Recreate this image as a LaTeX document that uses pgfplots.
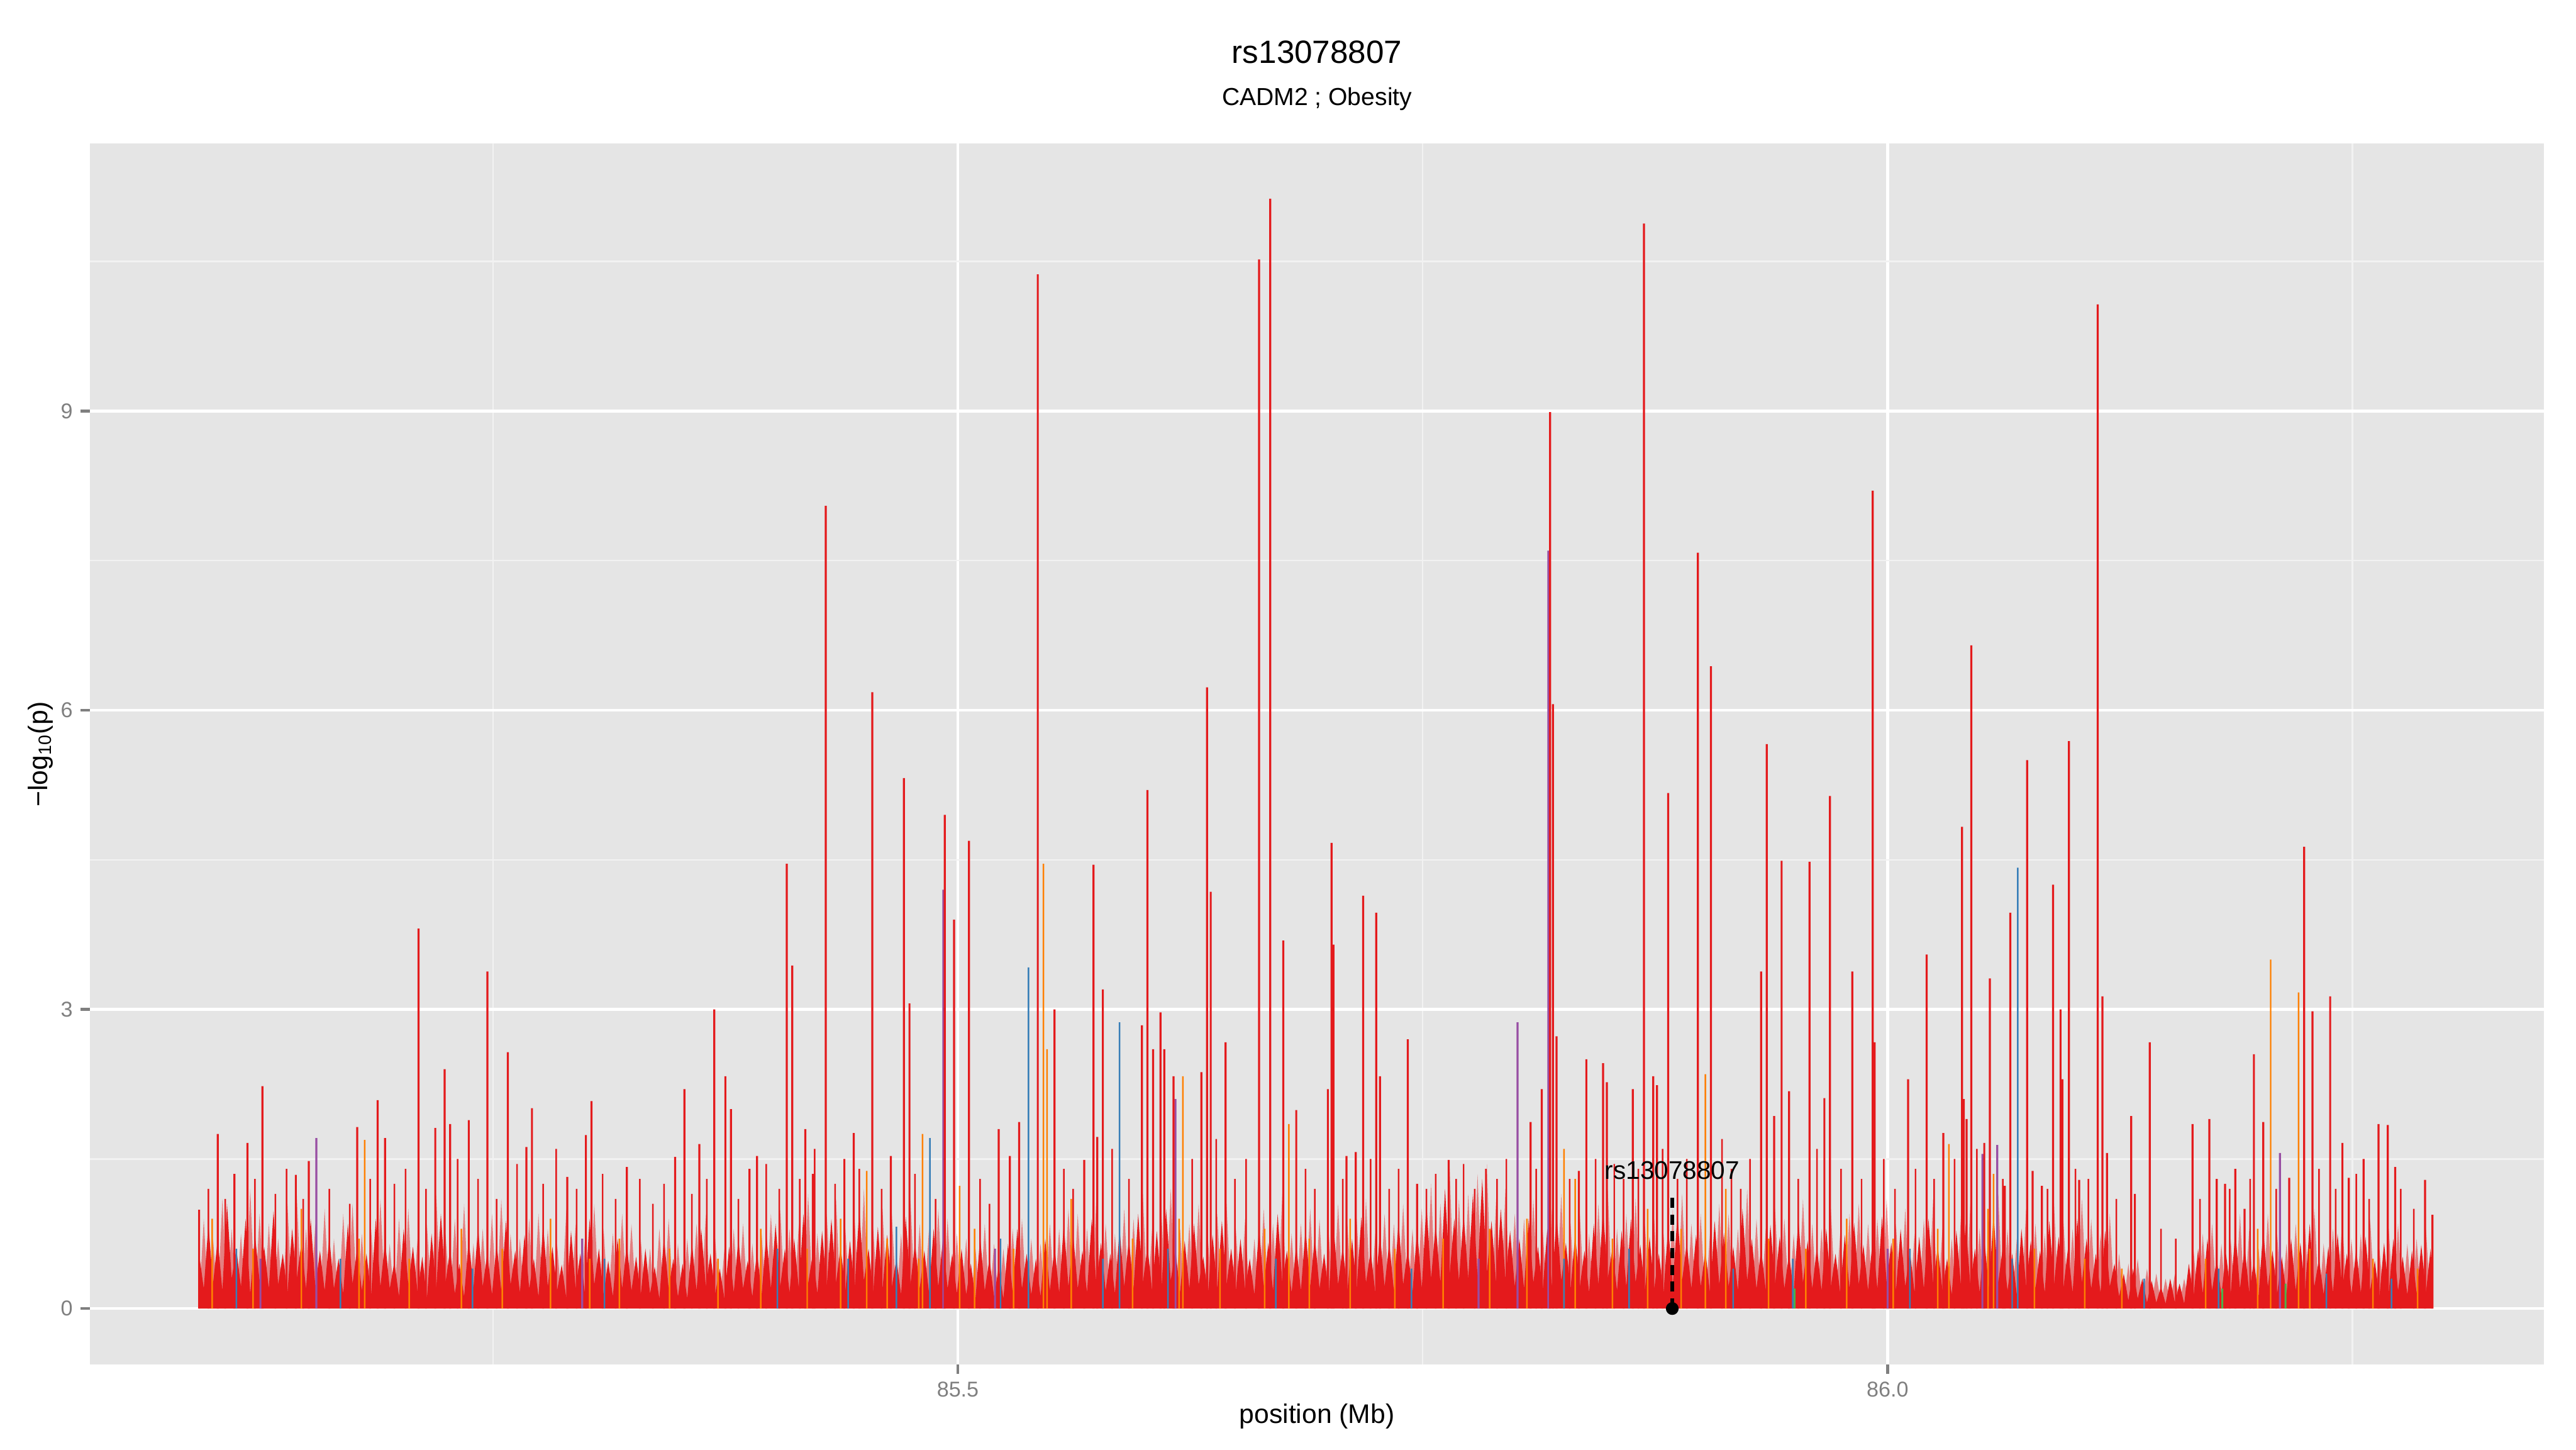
\documentclass[border=0pt]{standalone}
\usepackage{fontspec}
\setmainfont{Liberation Sans}
\usepackage{pgfplots}
\pgfplotsset{compat=1.18}
\definecolor{sred}{HTML}{E41A1C}
\definecolor{sblue}{HTML}{377EB8}
\definecolor{sgreen}{HTML}{4DAF4A}
\definecolor{spurple}{HTML}{984EA3}
\definecolor{sorange}{HTML}{FF7F00}
\definecolor{panelbg}{HTML}{E5E5E5}
\definecolor{minorgrid}{HTML}{F2F2F2}
\definecolor{tickgray}{HTML}{7F7F7F}
\pgfplotsset{spike/.style={ybar, bar shift=0pt, bar width=#1, draw=none}}
\begin{document}
\begin{tikzpicture}
\path[use as bounding box] (-40.32pt,-38pt) rectangle (1111.68pt,610.05pt);
\begin{axis}[
  at={(0pt,0pt)}, anchor=south west,
  scale only axis, width=1097.3pt, height=545.8pt,
  xmin=85.0334, xmax=86.3529, ymin=-0.561, ymax=11.681,
  axis background/.style={fill=panelbg},
  axis line style={draw=none},
  xtick={85.5,86.0}, xticklabels={85.5,86.0},
  minor xtick={85.25,85.75,86.25},
  ytick={0,3,6,9}, minor ytick={1.5,4.5,7.5,10.5},
  grid=both,
  major grid style={white, line width=1.3pt},
  minor grid style={minorgrid, line width=0.65pt},
  tick align=outside, tick pos=left,
  major tick length=4.25pt, minor tick length=0pt,
  tick style={tickgray, line width=1.2pt},
  ticklabel style={font=\fontsize{9.6}{11}\selectfont, text=tickgray},
  /pgf/number format/assume math mode=true,
]
% translucent upper layer of the dense background
\addplot[fill=sred, fill opacity=0.5, draw=none] coordinates {
(85.0918,0)
(85.0920,.05)(85.0945,.9)(85.0970,.05)(85.0995,.7)
(85.1020,.05)(85.1045,1.1)(85.1070,.05)(85.1095,.8)
(85.1120,.05)(85.1145,.75)(85.1170,.05)(85.1195,1.2)
(85.1220,.05)(85.1245,.95)(85.1270,.05)(85.1295,.85)
(85.1320,.05)(85.1345,.7)(85.1370,.05)(85.1395,1.05)
(85.1420,.05)(85.1445,1.15)(85.1470,.05)(85.1495,.8)
(85.1520,.05)(85.1545,.85)(85.1570,.05)(85.1595,1.0)
(85.1620,.05)(85.1645,.7)(85.1670,.05)(85.1695,.95)
(85.1720,.05)(85.1745,1.05)(85.1770,.05)(85.1795,.75)
(85.1820,.05)(85.1845,.8)(85.1870,.05)(85.1895,1.1)
(85.1920,.05)(85.1945,.65)(85.1970,.05)(85.1995,.9)
(85.2020,.05)(85.2045,1.0)(85.2070,.05)(85.2095,.7)
(85.2120,.05)(85.2145,.85)(85.2170,.05)(85.2195,1.15)
(85.2220,.05)(85.2245,.75)(85.2270,.05)(85.2295,.9)
(85.2320,.05)(85.2345,1.05)(85.2370,.05)(85.2395,.65)
(85.2420,.05)(85.2445,.8)(85.2470,.05)(85.2495,.95)
(85.2520,.05)(85.2545,1.1)(85.2570,.05)(85.2595,.75)
(85.2620,.05)(85.2645,.7)(85.2670,.05)(85.2695,.9)
(85.2720,.05)(85.2745,.95)(85.2770,.05)(85.2795,.8)
(85.2820,.05)(85.2845,.65)(85.2870,.05)(85.2895,1.0)
(85.2920,.05)(85.2945,.85)(85.2970,.05)(85.2995,.7)
(85.3020,.05)(85.3045,1.05)(85.3070,.05)(85.3095,.8)
(85.3120,.05)(85.3145,.75)(85.3170,.05)(85.3195,.95)
(85.3220,.05)(85.3245,.85)(85.3270,.05)(85.3295,.7)
(85.3320,.05)(85.3345,.6)(85.3370,.05)(85.3395,.8)
(85.3420,.05)(85.3445,.9)(85.3470,.05)(85.3495,.65)
(85.3520,.05)(85.3545,.7)(85.3570,.05)(85.3595,.85)
(85.3620,.05)(85.3645,.95)(85.3670,.05)(85.3695,.7)
(85.3720,.05)(85.3745,.6)(85.3770,.05)(85.3795,.8)
(85.3820,.05)(85.3845,.85)(85.3870,.05)(85.3895,.65)
(85.3920,.05)(85.3945,.75)(85.3970,.05)(85.3995,.95)
(85.4020,.05)(85.4045,1.0)(85.4070,.05)(85.4095,.8)
(85.4120,.05)(85.4145,.85)(85.4170,.05)(85.4195,1.15)
(85.4220,.05)(85.4245,.75)(85.4270,.05)(85.4295,.95)
(85.4320,.05)(85.4345,1.1)(85.4370,.05)(85.4395,.8)
(85.4420,.05)(85.4445,.9)(85.4470,.05)(85.4495,1.2)
(85.4520,.05)(85.4545,.8)(85.4570,.05)(85.4595,1.0)
(85.4620,.05)(85.4645,.95)(85.4670,.05)(85.4695,.75)
(85.4720,.05)(85.4745,1.1)(85.4770,.05)(85.4795,.85)
(85.4820,.05)(85.4845,.8)(85.4870,.05)(85.4895,1.0)
(85.4920,.05)(85.4945,.9)(85.4970,.05)(85.4995,.75)
(85.5020,.05)(85.5045,.7)(85.5070,.05)(85.5095,.6)
(85.5120,.05)(85.5145,.85)(85.5170,.05)(85.5195,.65)
(85.5220,.05)(85.5245,.6)(85.5270,.05)(85.5295,.8)
(85.5320,.05)(85.5345,.9)(85.5370,.05)(85.5395,.7)
(85.5420,.05)(85.5445,.65)(85.5470,.05)(85.5495,.85)
(85.5520,.05)(85.5545,.8)(85.5570,.05)(85.5595,1.0)
(85.5620,.05)(85.5645,.95)(85.5670,.05)(85.5695,.8)
(85.5720,.05)(85.5745,1.1)(85.5770,.05)(85.5795,.85)
(85.5820,.05)(85.5845,.75)(85.5870,.05)(85.5895,1.0)
(85.5920,.05)(85.5945,.9)(85.5970,.05)(85.5995,1.15)
(85.6020,.05)(85.6045,.8)(85.6070,.05)(85.6095,.95)
(85.6120,.05)(85.6145,1.2)(85.6170,.05)(85.6195,.8)
(85.6220,.05)(85.6245,.85)(85.6270,.05)(85.6295,1.05)
(85.6320,.05)(85.6345,.7)(85.6370,.05)(85.6395,.95)
(85.6420,.05)(85.6445,1.05)(85.6470,.05)(85.6495,.8)
(85.6520,.05)(85.6545,.9)(85.6570,.05)(85.6595,.7)
(85.6620,.05)(85.6645,1.0)(85.6670,.05)(85.6695,.85)
(85.6720,.05)(85.6745,1.15)(85.6770,.05)(85.6795,.75)
(85.6820,.05)(85.6845,.85)(85.6870,.05)(85.6895,1.0)
(85.6920,.05)(85.6945,.9)(85.6970,.05)(85.6995,.75)
(85.7020,.05)(85.7045,1.05)(85.7070,.05)(85.7095,.85)
(85.7120,.05)(85.7145,.9)(85.7170,.05)(85.7195,1.1)
(85.7220,.05)(85.7245,.75)(85.7270,.05)(85.7295,.95)
(85.7320,.05)(85.7345,.85)(85.7370,.05)(85.7395,1.05)
(85.7420,.05)(85.7445,.8)(85.7470,.05)(85.7495,1.0)
(85.7520,.05)(85.7545,1.25)(85.7570,.05)(85.7595,1.05)
(85.7620,.05)(85.7645,1.4)(85.7670,.05)(85.7695,1.1)
(85.7720,.05)(85.7745,1.15)(85.7770,.05)(85.7795,1.35)
(85.7820,.05)(85.7845,1.45)(85.7870,.05)(85.7895,1.1)
(85.7920,.05)(85.7945,1.2)(85.7970,.05)(85.7995,.95)
(85.8020,.05)(85.8045,.9)(85.8070,.05)(85.8095,1.1)
(85.8120,.05)(85.8145,.8)(85.8170,.05)(85.8195,1.0)
(85.8220,.05)(85.8245,1.15)(85.8270,.05)(85.8295,.85)
(85.8320,.05)(85.8345,.95)(85.8370,.05)(85.8395,.75)
(85.8420,.05)(85.8445,1.05)(85.8470,.05)(85.8495,1.2)
(85.8520,.05)(85.8545,.8)(85.8570,.05)(85.8595,.95)
(85.8620,.05)(85.8645,1.1)(85.8670,.05)(85.8695,.85)
(85.8720,.05)(85.8745,.9)(85.8770,.05)(85.8795,.75)
(85.8820,.05)(85.8845,1.0)(85.8870,.05)(85.8895,1.15)
(85.8920,.05)(85.8945,.85)(85.8970,.05)(85.8995,.95)
(85.9020,.05)(85.9045,.75)(85.9070,.05)(85.9095,1.05)
(85.9120,.05)(85.9145,.95)(85.9170,.05)(85.9195,.8)
(85.9220,.05)(85.9245,1.2)(85.9270,.05)(85.9295,.9)
(85.9320,.05)(85.9345,.8)(85.9370,.05)(85.9395,1.0)
(85.9420,.05)(85.9445,.9)(85.9470,.05)(85.9495,.75)
(85.9520,.05)(85.9545,1.1)(85.9570,.05)(85.9595,.85)
(85.9620,.05)(85.9645,.8)(85.9670,.05)(85.9695,1.0)
(85.9720,.05)(85.9745,.75)(85.9770,.05)(85.9795,.95)
(85.9820,.05)(85.9845,1.05)(85.9870,.05)(85.9895,.85)
(85.9920,.05)(85.9945,.9)(85.9970,.05)(85.9995,1.1)
(86.0020,.05)(86.0045,.85)(86.0070,.05)(86.0095,1.0)
(86.0120,.05)(86.0145,.75)(86.0170,.05)(86.0195,.9)
(86.0220,.05)(86.0245,1.1)(86.0270,.05)(86.0295,.8)
(86.0320,.05)(86.0345,.7)(86.0370,.05)(86.0395,.95)
(86.0420,.05)(86.0445,1.05)(86.0470,.05)(86.0495,.8)
(86.0520,.05)(86.0545,.9)(86.0570,.05)(86.0595,1.15)
(86.0620,.05)(86.0645,.8)(86.0670,.05)(86.0695,.7)
(86.0720,.05)(86.0745,1.0)(86.0770,.05)(86.0795,.85)
(86.0820,.05)(86.0845,.75)(86.0870,.05)(86.0895,1.05)
(86.0920,.05)(86.0945,.9)(86.0970,.05)(86.0995,.8)
(86.1020,.05)(86.1045,1.1)(86.1070,.05)(86.1095,.9)
(86.1120,.05)(86.1145,.75)(86.1170,.05)(86.1195,.95)
(86.1220,.05)(86.1245,.55)(86.1270,.05)(86.1295,.45)
(86.1320,.05)(86.1345,.5)(86.1370,.05)(86.1395,.4)
(86.1420,.05)(86.1445,.35)(86.1470,.05)(86.1495,.3)
(86.1520,.05)(86.1545,.35)(86.1570,.05)(86.1595,.3)
(86.1620,.05)(86.1645,.6)(86.1670,.05)(86.1695,.75)
(86.1720,.05)(86.1745,.85)(86.1770,.05)(86.1795,.65)
(86.1820,.05)(86.1845,.7)(86.1870,.05)(86.1895,.95)
(86.1920,.05)(86.1945,.8)(86.1970,.05)(86.1995,.6)
(86.2020,.05)(86.2045,.95)(86.2070,.05)(86.2095,.75)
(86.2120,.05)(86.2145,.65)(86.2170,.05)(86.2195,.85)
(86.2220,.05)(86.2245,.8)(86.2270,.05)(86.2295,1.0)
(86.2320,.05)(86.2345,.65)(86.2370,.05)(86.2395,.8)
(86.2420,.05)(86.2445,.9)(86.2470,.05)(86.2495,.7)
(86.2520,.05)(86.2545,.75)(86.2570,.05)(86.2595,.9)
(86.2620,.05)(86.2645,.6)(86.2670,.05)(86.2695,.8)
(86.2720,.05)(86.2745,.85)(86.2770,.05)(86.2795,.65)
(86.2820,.05)(86.2845,.7)(86.2870,.05)(86.2895,.8)
(86.2920,.05)(86.2928,.75)(86.2932,0)
};
% solid dense background "grass"
\addplot[fill=sred, draw=none] coordinates {
(85.0918,0)
(85.0920,.55)(85.0945,.2)(85.0970,.85)(85.0995,.25)
(85.1020,.7)(85.1045,.18)(85.1070,1.05)(85.1095,.3)
(85.1120,.6)(85.1145,.22)(85.1170,.9)(85.1195,.15)
(85.1220,.75)(85.1245,.28)(85.1270,.62)(85.1295,.2)
(85.1320,.98)(85.1345,.24)(85.1370,.55)(85.1395,.16)
(85.1420,.8)(85.1445,.3)(85.1470,.66)(85.1495,.2)
(85.1520,.9)(85.1545,.22)(85.1570,.58)(85.1595,.18)
(85.1620,.72)(85.1645,.2)(85.1670,.5)(85.1695,.15)
(85.1720,.85)(85.1745,.25)(85.1770,.6)(85.1795,.18)
(85.1820,.55)(85.1845,.14)(85.1870,.9)(85.1895,.22)
(85.1920,.68)(85.1945,.2)(85.1970,.47)(85.1995,.12)
(85.2020,.8)(85.2045,.24)(85.2070,.62)(85.2095,.16)
(85.2120,.52)(85.2145,.1)(85.2170,.75)(85.2195,.2)
(85.2220,.95)(85.2245,.26)(85.2270,.6)(85.2295,.15)
(85.2320,.45)(85.2345,.12)(85.2370,.7)(85.2395,.2)
(85.2420,.82)(85.2445,.22)(85.2470,.56)(85.2495,.14)
(85.2520,.66)(85.2545,.18)(85.2570,.88)(85.2595,.24)
(85.2620,.58)(85.2645,.16)(85.2670,.74)(85.2695,.2)
(85.2720,.5)(85.2745,.12)(85.2770,.85)(85.2795,.22)
(85.2820,.62)(85.2845,.18)(85.2870,.44)(85.2895,.1)
(85.2920,.78)(85.2945,.2)(85.2970,.55)(85.2995,.15)
(85.3020,.9)(85.3045,.24)(85.3070,.6)(85.3095,.14)
(85.3120,.48)(85.3145,.12)(85.3170,.7)(85.3195,.2)
(85.3220,.65)(85.3245,.18)(85.3270,.52)(85.3295,.14)
(85.3320,.6)(85.3345,.15)(85.3370,.42)(85.3395,.1)
(85.3420,.72)(85.3445,.2)(85.3470,.5)(85.3495,.12)
(85.3520,.45)(85.3545,.1)(85.3570,.66)(85.3595,.18)
(85.3620,.8)(85.3645,.22)(85.3670,.55)(85.3695,.15)
(85.3720,.4)(85.3745,.1)(85.3770,.62)(85.3795,.16)
(85.3820,.7)(85.3845,.2)(85.3870,.48)(85.3895,.12)
(85.3920,.58)(85.3945,.14)(85.3970,.75)(85.3995,.2)
(85.4020,.85)(85.4045,.22)(85.4070,.6)(85.4095,.16)
(85.4120,.7)(85.4145,.2)(85.4170,.95)(85.4195,.25)
(85.4220,.55)(85.4245,.15)(85.4270,.78)(85.4295,.22)
(85.4320,.9)(85.4345,.26)(85.4370,.62)(85.4395,.18)
(85.4420,.68)(85.4445,.2)(85.4470,1.0)(85.4495,.28)
(85.4520,.6)(85.4545,.16)(85.4570,.82)(85.4595,.2)
(85.4620,.74)(85.4645,.22)(85.4670,.5)(85.4695,.14)
(85.4720,.92)(85.4745,.24)(85.4770,.66)(85.4795,.2)
(85.4820,.58)(85.4845,.16)(85.4870,.8)(85.4895,.22)
(85.4920,.7)(85.4945,.2)(85.4970,.55)(85.4995,.15)
(85.5020,.6)(85.5045,.14)(85.5070,.45)(85.5095,.1)
(85.5120,.72)(85.5145,.18)(85.5170,.5)(85.5195,.12)
(85.5220,.42)(85.5245,.1)(85.5270,.65)(85.5295,.16)
(85.5320,.8)(85.5345,.2)(85.5370,.55)(85.5395,.14)
(85.5420,.5)(85.5445,.12)(85.5470,.7)(85.5495,.18)
(85.5520,.62)(85.5545,.16)(85.5570,.85)(85.5595,.22)
(85.5620,.75)(85.5645,.2)(85.5670,.58)(85.5695,.16)
(85.5720,.9)(85.5745,.25)(85.5770,.66)(85.5795,.18)
(85.5820,.55)(85.5845,.15)(85.5870,.8)(85.5895,.22)
(85.5920,.7)(85.5945,.2)(85.5970,.95)(85.5995,.26)
(85.6020,.62)(85.6045,.18)(85.6070,.78)(85.6095,.2)
(85.6120,1.0)(85.6145,.28)(85.6170,.6)(85.6195,.16)
(85.6220,.68)(85.6245,.2)(85.6270,.85)(85.6295,.24)
(85.6320,.52)(85.6345,.14)(85.6370,.74)(85.6395,.2)
(85.6420,.88)(85.6445,.24)(85.6470,.6)(85.6495,.18)
(85.6520,.7)(85.6545,.2)(85.6570,.5)(85.6595,.14)
(85.6620,.82)(85.6645,.22)(85.6670,.66)(85.6695,.18)
(85.6720,.95)(85.6745,.26)(85.6770,.58)(85.6795,.16)
(85.6820,.64)(85.6845,.18)(85.6870,.8)(85.6895,.22)
(85.6920,.72)(85.6945,.2)(85.6970,.55)(85.6995,.15)
(85.7020,.85)(85.7045,.24)(85.7070,.62)(85.7095,.18)
(85.7120,.7)(85.7145,.2)(85.7170,.92)(85.7195,.26)
(85.7220,.58)(85.7245,.16)(85.7270,.76)(85.7295,.22)
(85.7320,.66)(85.7345,.18)(85.7370,.88)(85.7395,.24)
(85.7420,.6)(85.7445,.16)(85.7470,.8)(85.7495,.2)
(85.7520,1.05)(85.7545,.3)(85.7570,.85)(85.7595,.26)
(85.7620,1.2)(85.7645,.35)(85.7670,.9)(85.7695,.28)
(85.7720,.95)(85.7745,.3)(85.7770,1.15)(85.7795,.32)
(85.7820,1.3)(85.7845,.36)(85.7870,.88)(85.7895,.26)
(85.7920,1.0)(85.7945,.3)(85.7970,.78)(85.7995,.22)
(85.8020,.7)(85.8045,.2)(85.8070,.9)(85.8095,.26)
(85.8120,.62)(85.8145,.18)(85.8170,.8)(85.8195,.22)
(85.8220,.95)(85.8245,.28)(85.8270,.66)(85.8295,.2)
(85.8320,.74)(85.8345,.22)(85.8370,.58)(85.8395,.16)
(85.8420,.85)(85.8445,.24)(85.8470,1.0)(85.8495,.3)
(85.8520,.6)(85.8545,.18)(85.8570,.78)(85.8595,.22)
(85.8620,.9)(85.8645,.26)(85.8670,.64)(85.8695,.18)
(85.8720,.72)(85.8745,.2)(85.8770,.55)(85.8795,.16)
(85.8820,.82)(85.8845,.24)(85.8870,.95)(85.8895,.28)
(85.8920,.66)(85.8945,.2)(85.8970,.74)(85.8995,.22)
(85.9020,.58)(85.9045,.16)(85.9070,.88)(85.9095,.24)
(85.9120,.76)(85.9145,.22)(85.9170,.62)(85.9195,.18)
(85.9220,1.0)(85.9245,.28)(85.9270,.7)(85.9295,.2)
(85.9320,.6)(85.9345,.18)(85.9370,.84)(85.9395,.24)
(85.9420,.72)(85.9445,.2)(85.9470,.55)(85.9495,.16)
(85.9520,.9)(85.9545,.26)(85.9570,.68)(85.9595,.2)
(85.9620,.62)(85.9645,.18)(85.9670,.8)(85.9695,.22)
(85.9720,.55)(85.9745,.16)(85.9770,.74)(85.9795,.2)
(85.9820,.86)(85.9845,.24)(85.9870,.64)(85.9895,.18)
(85.9920,.7)(85.9945,.2)(85.9970,.92)(85.9995,.26)
(86.0020,.66)(86.0045,.18)(86.0070,.8)(86.0095,.22)
(86.0120,.58)(86.0145,.16)(86.0170,.72)(86.0195,.2)
(86.0220,.9)(86.0245,.26)(86.0270,.62)(86.0295,.18)
(86.0320,.5)(86.0345,.14)(86.0370,.78)(86.0395,.22)
(86.0420,.85)(86.0445,.24)(86.0470,.6)(86.0495,.16)
(86.0520,.7)(86.0545,.2)(86.0570,.95)(86.0595,.26)
(86.0620,.62)(86.0645,.18)(86.0670,.55)(86.0695,.14)
(86.0720,.8)(86.0745,.22)(86.0770,.68)(86.0795,.2)
(86.0820,.58)(86.0845,.16)(86.0870,.88)(86.0895,.24)
(86.0920,.72)(86.0945,.2)(86.0970,.6)(86.0995,.16)
(86.1020,.9)(86.1045,.26)(86.1070,.7)(86.1095,.2)
(86.1120,.55)(86.1145,.16)(86.1170,.78)(86.1195,.22)
(86.1220,.45)(86.1245,.12)(86.1270,.35)(86.1295,.08)
(86.1320,.4)(86.1345,.1)(86.1370,.3)(86.1395,.06)
(86.1420,.28)(86.1445,.06)(86.1470,.22)(86.1495,.05)
(86.1520,.3)(86.1545,.06)(86.1570,.25)(86.1595,.05)
(86.1620,.45)(86.1645,.12)(86.1670,.6)(86.1695,.15)
(86.1720,.7)(86.1745,.18)(86.1770,.5)(86.1795,.14)
(86.1820,.55)(86.1845,.15)(86.1870,.78)(86.1895,.2)
(86.1920,.62)(86.1945,.16)(86.1970,.48)(86.1995,.12)
(86.2020,.8)(86.2045,.22)(86.2070,.58)(86.2095,.15)
(86.2120,.52)(86.2145,.14)(86.2170,.7)(86.2195,.18)
(86.2220,.66)(86.2245,.18)(86.2270,.85)(86.2295,.22)
(86.2320,.5)(86.2345,.14)(86.2370,.62)(86.2395,.16)
(86.2420,.75)(86.2445,.2)(86.2470,.55)(86.2495,.15)
(86.2520,.6)(86.2545,.16)(86.2570,.72)(86.2595,.18)
(86.2620,.48)(86.2645,.12)(86.2670,.66)(86.2695,.16)
(86.2720,.7)(86.2745,.18)(86.2770,.52)(86.2795,.14)
(86.2820,.58)(86.2845,.15)(86.2870,.64)(86.2895,.16)
(86.2920,.6)(86.2932,.3)(86.2932,0)
};
% medium red spikes
\addplot[spike=0.7pt, fill=sred] coordinates {
(85.097,1.2)(85.106,1.1)(85.122,1.3)(85.133,1.15)(85.139,1.4)(85.148,1.1)
(85.162,1.2)(85.173,1.05)(85.184,1.3)(85.197,1.25)(85.203,1.4)(85.214,1.2)
(85.231,1.5)(85.242,1.3)(85.252,1.1)(85.263,1.45)(85.277,1.25)(85.284,1.6)
(85.295,1.2)(85.309,1.35)(85.316,1.1)(85.329,1.3)(85.336,1.05)(85.342,1.25)
(85.357,1.15)(85.365,1.3)(85.382,1.1)(85.397,1.45)(85.404,1.2)(85.415,1.3)
(85.423,1.6)(85.434,1.25)(85.447,1.4)(85.459,1.2)(85.477,1.35)(85.488,1.1)
(85.512,1.3)(85.517,1.05)(85.557,1.4)(85.562,1.2)(85.583,1.6)(85.592,1.3)
(85.626,1.5)(85.639,1.7)(85.649,1.3)(85.655,1.5)(85.687,1.4)(85.692,1.2)
(85.707,1.3)(85.722,1.5)(85.732,1.2)(85.737,1.4)(85.752,1.2)(85.757,1.35)
(85.768,1.3)(85.772,1.45)(85.778,1.2)(85.784,1.4)(85.790,1.3)(85.795,1.5)
(85.811,1.4)(85.829,1.3)(85.843,1.5)(85.853,1.45)(85.858,1.3)(85.866,1.4)
(85.879,1.6)(85.887,1.3)(85.892,1.5)(85.911,1.7)(85.916,1.4)(85.921,1.2)
(85.926,1.5)(85.952,1.3)(85.962,1.6)(85.975,1.4)(85.986,1.3)(85.998,1.5)
(86.004,1.2)(86.015,1.4)(86.025,1.3)(86.036,1.5)(86.048,1.6)(86.062,1.3)
(86.086,1.2)(86.101,1.4)(86.108,1.3)(86.123,1.1)(86.147,0.8)(86.155,0.7)
(86.168,1.1)(86.184,1.2)(86.195,1.3)(86.209,1.2)(86.232,1.4)(86.241,1.2)
(86.252,1.35)(86.259,1.1)(86.276,1.2)(86.283,1.0)
};
% purple (drawn beneath the tall red spikes)
\addplot[spike=0.9pt, fill=spurple] coordinates {
(85.125,.5)(85.1550,1.71)(85.298,.7)(85.4922,4.2)(85.520,.6)(85.6170,2.1)
(85.780,.5)(85.8010,2.87)(85.8176,7.6)(86.000,.6)(86.0510,1.55)(86.0590,1.64)
(86.2110,1.56)
};
% tall red spikes
\addplot[spike=0.9pt, fill=sred] coordinates {
(85.0920,0.99)(85.1020,1.75)(85.1110,1.35)(85.1180,1.66)(85.1260,2.23)
(85.1440,1.34)(85.1510,1.48)(85.1770,1.82)(85.1880,2.09)(85.1920,1.71)
(85.2100,3.81)(85.2190,1.81)(85.2240,2.4)(85.2270,1.85)(85.2370,1.89)
(85.2470,3.38)(85.2580,2.57)(85.2680,1.62)(85.2710,2.01)(85.2900,1.32)
(85.3000,1.74)(85.3030,2.08)(85.3220,1.42)(85.3480,1.52)(85.3530,2.2)
(85.3610,1.65)(85.3690,3.0)(85.3750,2.33)(85.3780,2.0)(85.3880,1.4)
(85.3920,1.53)(85.4080,4.46)(85.4110,3.44)(85.4180,1.8)(85.4220,1.35)
(85.4290,8.05)(85.4390,1.5)(85.4440,1.76)(85.4540,6.18)(85.4640,1.53)
(85.4710,5.32)(85.4740,3.06)(85.4930,4.95)(85.4980,3.9)(85.5060,4.69)
(85.5220,1.8)(85.5280,1.53)(85.5330,1.87)(85.5430,10.37)(85.5520,3.0)
(85.5680,1.49)(85.5730,4.45)(85.5750,1.72)(85.5780,3.2)(85.5990,2.84)
(85.6020,5.2)(85.6050,2.6)(85.6090,2.97)(85.6110,2.6)(85.6160,2.33)
(85.6310,2.37)(85.6340,6.23)(85.6360,4.18)(85.6440,2.67)(85.6620,10.52)
(85.6680,11.13)(85.6750,3.69)(85.6820,1.99)(85.6990,2.2)(85.7010,4.67)
(85.7020,3.65)(85.7090,1.53)(85.7140,1.57)(85.7180,4.14)(85.7250,3.97)
(85.7270,2.33)(85.7420,2.7)(85.7470,1.25)(85.7640,1.49)(85.8080,1.87)
(85.8140,2.2)(85.8185,8.99)(85.8200,6.06)(85.8220,2.73)(85.8340,1.38)(85.8380,2.5)
(85.8470,2.46)(85.8490,2.27)(85.8630,2.2)(85.8690,10.88)(85.8740,2.33)
(85.8760,2.24)(85.8820,5.17)(85.8980,7.58)(85.9050,6.44)(85.9320,3.38)
(85.9350,5.66)(85.9390,1.93)(85.9430,4.49)(85.9470,2.18)(85.9580,4.48)
(85.9660,2.11)(85.9690,5.14)(85.9810,3.38)(85.9920,8.2)(85.9930,2.67)
(86.0110,2.3)(86.0210,3.55)(86.0300,1.76)(86.0400,4.83)(86.0410,2.1)
(86.0425,1.9)(86.0450,6.65)(86.0520,1.66)(86.0550,3.31)(86.0630,1.23)
(86.0660,3.97)(86.0750,5.5)(86.0780,1.38)(86.0830,1.23)(86.0890,4.25)
(86.0930,3.0)(86.0940,2.3)(86.0975,5.69)(86.1030,1.29)(86.1130,10.07)
(86.1155,3.13)(86.1180,1.56)(86.1310,1.93)(86.1330,1.15)(86.1410,2.67)
(86.1640,1.85)(86.1730,1.9)(86.1770,1.3)(86.1815,1.25)(86.1870,1.4)
(86.1920,1.0)(86.1970,2.55)(86.2020,1.87)(86.2160,1.31)(86.2240,4.63)
(86.2285,2.98)(86.2380,3.13)(86.2446,1.66)(86.2480,1.31)(86.2560,1.5)
(86.2640,1.85)(86.2690,1.84)(86.2730,1.42)(86.2890,1.29)(86.2930,0.94)
};
% orange
\addplot[spike=0.7pt, fill=sorange] coordinates {
(85.099,.9)(85.121,.6)(85.147,1.0)(85.178,.7)(85.1810,1.69)(85.205,.5)
(85.233,.8)(85.255,.6)(85.281,.9)(85.302,.5)(85.318,.7)(85.345,.6)
(85.371,.5)(85.394,.8)(85.419,.6)(85.437,.9)(85.4510,1.38)(85.462,.7)
(85.479,.5)(85.4810,1.75)(85.5010,1.23)(85.509,.8)(85.530,.6)(85.5460,4.46)
(85.5480,2.6)(85.561,1.1)(85.594,.7)(85.619,.9)(85.6210,2.33)(85.641,.6)
(85.665,.8)(85.6780,1.85)(85.689,.7)(85.711,.9)(85.735,.6)(85.761,.7)
(85.786,.8)(85.806,.9)(85.8260,1.6)(85.832,1.3)(85.852,.7)(85.871,1.0)
(85.889,.8)(85.9020,2.35)(85.913,1.2)(85.936,.7)(85.956,.6)(85.978,.9)
(86.003,.7)(86.027,.8)(86.0330,1.65)(86.054,1.0)(86.0570,1.35)(86.079,.6)
(86.106,.5)(86.126,.4)(86.171,.5)(86.199,.8)(86.2060,3.5)(86.2210,3.17)
(86.227,.6)(86.261,.5)(86.285,.4)
};
% blue
\addplot[spike=0.7pt, fill=sblue] coordinates {
(85.112,.6)(85.168,.5)(85.239,.4)(85.310,.5)(85.403,.6)(85.441,.5)
(85.4670,.82)(85.4850,1.71)(85.523,.7)(85.5380,3.42)(85.578,.5)(85.5870,2.87)
(85.613,.6)(85.671,.5)(85.744,.4)(85.826,.5)(85.861,.6)(85.917,.4)
(85.949,.5)(86.012,.6)(86.067,.5)(86.0700,4.42)(86.138,.3)(86.178,.4)
(86.236,.35)(86.271,.3)
};
% green
\addplot[spike=0.8pt, fill=sgreen] coordinates {
(85.950,.2)(86.180,.2)(86.214,.25)
};
% highlighted SNP
\addplot[black, line width=1.6pt, dash pattern=on 4.5pt off 3pt] coordinates {(85.8842,0) (85.8842,1.108)};
\addplot[only marks, mark=*, mark size=2.65pt, black] coordinates {(85.8842,0)};
\node[anchor=base, font=\fontsize{11.4}{13}\selectfont, inner sep=0pt] at (axis cs:85.8842,1.296) {rs13078807};
\end{axis}
\node[anchor=base, inner sep=0pt, font=\fontsize{14.4}{17}\selectfont] at (548.65pt,581.65pt) {rs13078807};
\node[anchor=base, inner sep=0pt, font=\fontsize{11}{13}\selectfont] at (548.65pt,562.85pt) {CADM2 ; Obesity};
\node[anchor=base, inner sep=0pt, font=\fontsize{12}{14}\selectfont] at (548.65pt,-26.2pt) {position (Mb)};
\node[anchor=base, inner sep=0pt, rotate=90, font=\fontsize{12}{14}\selectfont] at (-19.1pt,272.9pt) {−log\textsubscript{10}(p)};
\end{tikzpicture}
\end{document}
